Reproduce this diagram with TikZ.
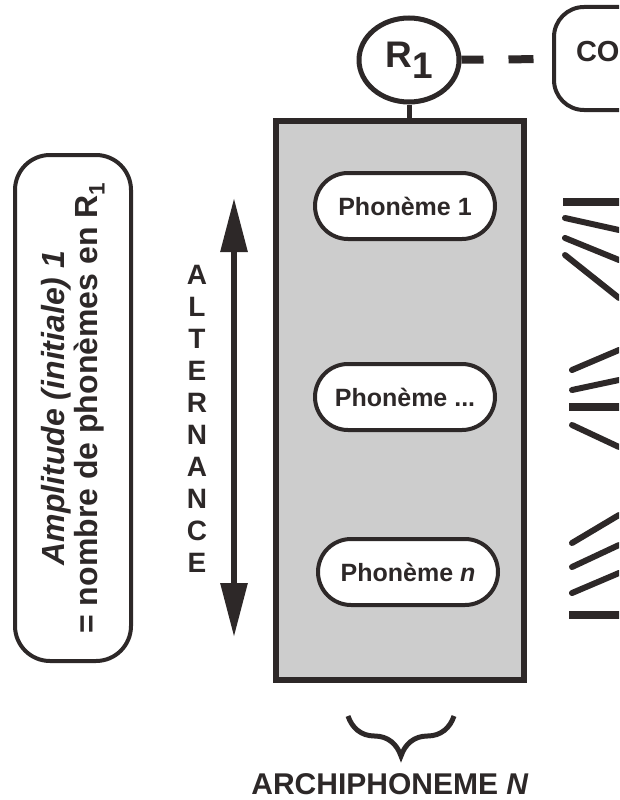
\documentclass[tikz,border=0pt]{standalone}
\usepackage{fontspec}
\setmainfont{Liberation Sans}
\usetikzlibrary{arrows.meta,positioning,shapes.geometric,decorations.pathreplacing}
\definecolor{ink}{RGB}{45,40,40}
\definecolor{shade}{RGB}{205,205,205}
\begin{document}
\begin{tikzpicture}[
  x=1pt, y=-1pt,
  every node/.append style={text=ink},
  phon/.style={draw=ink, line width=4pt, fill=white, rounded corners=33pt,
    minimum width=180pt, minimum height=66pt, font=\fontsize{25}{30}\selectfont\bfseries},
  link/.style={draw=ink, line width=6pt, line cap=round},
  bar/.style={draw=ink, line width=8pt},
  >={Triangle[length=54pt, width=26pt]}
]
\useasboundingbox (0,0) rectangle (619,800);
\clip (0,0) rectangle (619,800);
\fill[white] (0,0) rectangle (619,800);

% archiphoneme box and its phonemes
\node[draw=ink, line width=6pt, fill=shade, minimum width=248pt, minimum height=559pt] (archi) at (400,400.5) {};
\node[phon] (ph1) at (405,206) {Phonème 1};
\node[phon] (phx) at (405,397) {Phonème ...};
\node[phon] (phn) at (408,572) {Phonème \textit{n}};

\node[draw=ink, ellipse, line width=5pt, minimum width=100pt, minimum height=84pt,
  font=\fontsize{37}{37}\selectfont\bfseries] (r1) at (409,60) {R\raisebox{-11pt}{1}};
\node[draw=ink, line width=4pt, rounded corners=30pt, anchor=west, minimum width=160pt, minimum height=103pt,
  inner xsep=22pt, text width=116pt, align=left, font=\fontsize{29}{29}\selectfont\bfseries] (co) at (552,58.5) {\raisebox{14pt}{CO}};

\draw[ink, line width=5pt] (r1.south) -- (r1.south |- archi.north);
\draw[ink, line width=8pt, dash pattern=on 22pt off 25pt on 25pt off 30pt] (r1) -- (co);

% amplitude
\node[draw=ink, line width=4pt, rounded corners=35pt, rotate=90, minimum width=506pt, minimum height=116pt,
  align=center, font=\fontsize{32}{33}\selectfont\bfseries] (ampl) at (73,408)
  {\textit{Amplitude (initiale) 1}\\= nombre de phonèmes en R\textsubscript{1}};

% alternance
\coordinate (alttop) at (234,198);
\coordinate (altbot) at (234,637);
\draw[ink, line width=6pt, <->] (alttop) -- (altbot);
\node[align=center, font=\fontsize{28}{32}\selectfont\bfseries] (alt) at (197,419) {A\\L\\T\\E\\R\\N\\A\\N\\C\\E};

% links on the right
\foreach \xa/\ya/\yb in {565/218/230, 565/238/260, 565/255/298, 572/370/350, 572/390/380,
    572/425/447, 572/543/515, 572/567/545, 572/593/573}
  \draw[link] (\xa,\ya) -- (619,\yb);
\foreach \xa/\y in {563/202, 569/407, 569/615}
  \draw[bar] (\xa,\y) -- (625,\y);

% brace and label
\draw[ink, line width=5pt, decorate, decoration={brace, amplitude=40pt}] (454,716) -- (348,716);
\node[font=\fontsize{30}{30}\selectfont\bfseries] (archilbl) at (390,784) {ARCHIPHONEME \textit{N}};

\end{tikzpicture}
\end{document}
